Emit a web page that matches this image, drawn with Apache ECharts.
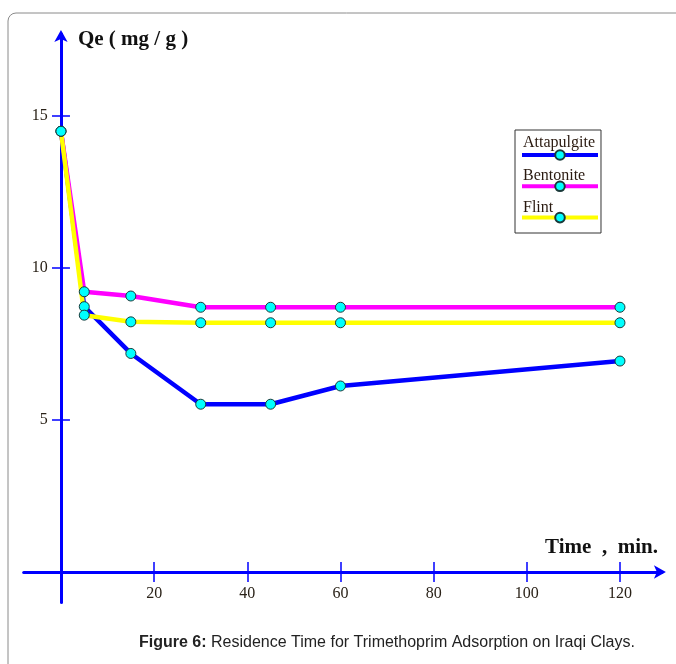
<!DOCTYPE html>
<html>
<head>
<meta charset="utf-8">
<script src="https://cdn.jsdelivr.net/npm/echarts@6/dist/echarts.min.js"></script>
<style>
  html, body { margin: 0; padding: 0; background: #fff; }
  #chart { width: 676px; height: 664px; }
</style>
</head>
<body>
<div id="chart"></div>
<script>
const chartDom = document.getElementById("chart");
const chart = echarts.init(chartDom);

// contact time, min
const times = [0, 5, 15, 30, 45, 60, 120];
// Qe values
const attapulgite = [14.5, 8.73, 7.19, 5.52, 5.52, 6.12, 6.94];
const bentonite = [14.5, 9.22, 9.08, 8.71, 8.71, 8.71, 8.71];
const flint = [14.5, 8.45, 8.23, 8.2, 8.2, 8.2, 8.2];

const xTicks = [20, 40, 60, 80, 100, 120];
const yTicks = [5, 10, 15];
const seriesNames = ['Attapulgite', 'Bentonite', 'Flint'];

const serif = 'Liberation Serif, Times New Roman, serif';
const axisBlue = '#0000ff';

const pairs = (ys) => times.map((t, i) => [t, ys[i]]);

const makeSeries = (name, ys, color) => ({
    name: name,
    type: 'line',
    xAxisIndex: 0,
    yAxisIndex: 0,
    data: pairs(ys),
    symbol: 'circle',
    symbolSize: 10,
    lineStyle: { color: color, width: 4.5 },
    itemStyle: { color: '#00ffff', borderColor: '#1a3a3a', borderWidth: 1 },
    emphasis: { disabled: true },
    animation: false
});

// shared base for the two x axes (outer ticks + inner ticks)
const xBase = {
    type: 'value',
    min: -8,
    max: 129,
    position: 'bottom',
    splitLine: { show: false },
    axisLine: { show: true, onZero: true, lineStyle: { color: axisBlue, width: 3 } },
    axisTick: { show: true, length: 10, customValues: xTicks, lineStyle: { color: axisBlue, width: 1.5 } },
    axisLabel: { show: false }
};

const yBase = {
    type: 'value',
    min: -1,
    max: 17.7,
    position: 'left',
    splitLine: { show: false },
    axisLine: { show: true, onZero: true, lineStyle: { color: axisBlue, width: 3 } },
    axisTick: { show: true, length: 9, customValues: yTicks, lineStyle: { color: axisBlue, width: 1.5 } },
    axisLabel: { show: false }
};

let option = {
    backgroundColor: '#fff',
    animation: false,
    grid: {
        left: 23.7, width: 638.2, top: 34, height: 568.4,
        containLabel: false, outerBoundsMode: 'none'
    },
    xAxis: [
        {
            ...xBase,
            axisLine: { ...xBase.axisLine, symbol: ['none', 'arrow'], symbolSize: [10, 12], symbolOffset: [0, 4] },
            // labels sit on the grid edge, pull them back up to the axis line
            axisLabel: {
                show: true, customValues: xTicks, margin: -17,
                fontFamily: serif, fontSize: 16, color: '#2a2218'
            },
            name: 'Time  ,  min.\n\n',
            nameLocation: 'end',
            nameGap: -4,
            nameMoveOverlap: false,
            nameTextStyle: {
                fontFamily: serif, fontSize: 21, fontWeight: 'bold', color: '#111',
                align: 'right', verticalAlign: 'middle', lineHeight: 24
            }
        },
        {
            ...xBase,
            axisLine: { show: true, onZero: true, lineStyle: { color: 'rgba(0,0,0,0)', width: 0 } },
            axisTick: { ...xBase.axisTick, inside: true }
        }
    ],
    yAxis: [
        {
            ...yBase,
            axisLine: { ...yBase.axisLine, symbol: ['none', 'arrow'], symbolSize: [10, 12], symbolOffset: [0, 4] },
            axisLabel: {
                show: true, customValues: yTicks, margin: -24,
                fontFamily: serif, fontSize: 16, color: '#2a2218'
            },
            name: 'Qe ( mg / g )',
            nameLocation: 'end',
            nameGap: -6,
            nameMoveOverlap: false,
            nameTextStyle: {
                fontFamily: serif, fontSize: 21, fontWeight: 'bold', color: '#111',
                align: 'left', verticalAlign: 'middle', padding: [0, 0, 0, 17]
            }
        },
        {
            ...yBase,
            axisLine: { show: true, onZero: true, lineStyle: { color: 'rgba(0,0,0,0)', width: 0 } },
            axisTick: { ...yBase.axisTick, inside: true }
        }
    ],
    legend: [
        {
            // text rows, also carries the box
            data: seriesNames,
            orient: 'vertical',
            left: 515,
            top: 130,
            itemWidth: 0,
            itemHeight: 16,
            itemGap: 14.5,
            icon: 'rect',
            itemStyle: { opacity: 0 },
            lineStyle: { opacity: 0 },
            padding: [4, 6, 16, 2],
            backgroundColor: '#fff',
            borderColor: '#333',
            borderWidth: 1,
            selectedMode: false,
            textStyle: { fontFamily: serif, fontSize: 16, lineHeight: 16, color: '#2a1a10' }
        },
        {
            // line + marker samples
            data: seriesNames,
            orient: 'vertical',
            left: 520,
            top: 149,
            itemWidth: 76,
            itemHeight: 12,
            itemGap: 19.5,
            padding: 0,
            z: 5,
            selectedMode: false,
            lineStyle: { width: 4 },
            formatter: () => '',
            textStyle: { fontSize: 1 }
        }
    ],
    title: {
        text: '{b|Figure 6:} Residence Time for Trimethoprim Adsorption on Iraqi Clays.',
        left: 134,
        top: 630,
        textStyle: {
            fontFamily: 'Arial, Liberation Sans, sans-serif',
            fontSize: 16,
            fontWeight: 'normal',
            color: '#222',
            rich: {
                b: { fontFamily: 'Arial, Liberation Sans, sans-serif', fontSize: 16, fontWeight: 'bold', color: '#222' }
            }
        }
    },
    graphic: [
        {
            type: 'rect',
            z: -10,
            shape: { x: 8, y: 13, width: 700, height: 700, r: 8 },
            style: { fill: 'none', stroke: '#8a8a8a', lineWidth: 1 },
            silent: true
        }
    ],
    series: [
        makeSeries('Attapulgite', attapulgite, '#0000ff'),
        makeSeries('Bentonite', bentonite, '#ff00ff'),
        makeSeries('Flint', flint, '#ffff00')
    ]
};

if (option && typeof option === 'object') {
    chart.setOption(option);
}
</script>
</body>
</html>
